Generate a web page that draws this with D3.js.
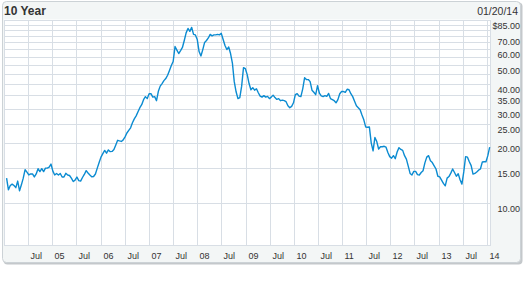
<!DOCTYPE html>
<html>
<head>
<meta charset="utf-8">
<script src="https://cdn.jsdelivr.net/npm/d3@7"></script>
<style>
  body { margin: 0; background: #fff; }
  text { font-family: "Liberation Sans", Arial, sans-serif; fill: #333; }
</style>
</head>
<body>
<script>
// Closing prices, one every two weeks from 01/20/04
var prices2004 = [13.3, 11.6, 12.2, 12.4, 12.2, 11.9, 12.85, 11.46, 12.3, 13.3, 14.69, 14.26, 13.8, 13.96, 13.96, 13.48, 13.96, 14.86, 14.35, 14.86, 14.35, 14.95, 14.95, 15.12, 15.68, 14.43];
var prices2005 = [13.8, 14.04, 13.8, 14.04, 13.48, 13.48, 14.07, 13.8, 13.72, 13.31, 12.78, 13.0, 13.48, 12.92, 12.85, 13.4, 13.88, 14.52, 14.12, 13.8, 13.52, 13.56, 13.96, 14.95, 15.95, 17.0];
var prices2006 = [17.7, 18.4, 17.8, 18.5, 18.13, 18.18, 18.6, 19.6, 20.7, 20.55, 20.43, 20.8, 21.55, 22.55, 23.25, 23.95, 25.4, 26.6, 27.55, 28.9, 30.3, 31.4, 33.3, 34.5, 33.7, 35.7];
var prices2007 = [35.7, 34.3, 34.5, 32.9, 36.7, 39.0, 40.2, 41.6, 42.6, 44.3, 46.8, 49.6, 52.0, 62.0, 59.4, 57.1, 59.1, 61.3, 66.5, 72.7, 76.6, 74.0, 77.5, 71.4, 71.0, 67.3];
var prices2008 = [58.4, 55.5, 59.8, 65.0, 66.5, 68.5, 71.4, 70.2, 71.0, 71.0, 71.4, 71.0, 72.3, 67.3, 62.7, 59.8, 61.6, 57.1, 51.1, 41.1, 36.5, 33.7, 34.1, 39.0, 48.4, 47.8];
var prices2009 = [44.6, 40.2, 37.4, 38.3, 37.2, 37.8, 36.1, 34.7, 34.3, 34.9, 34.3, 34.6, 33.7, 34.3, 35.1, 34.1, 33.4, 33.7, 32.9, 33.1, 32.9, 32.5, 31.0, 30.3, 30.8, 32.1];
var prices2010 = [35.3, 35.7, 34.7, 34.5, 37.8, 43.0, 42.1, 42.1, 41.1, 37.2, 36.3, 35.3, 39.2, 35.9, 34.8, 34.5, 34.9, 34.6, 35.8, 33.7, 33.3, 32.9, 32.1, 33.3, 35.7, 36.6];
var prices2011 = [36.6, 36.3, 37.6, 37.4, 35.7, 34.5, 32.7, 31.0, 30.3, 29.6, 27.8, 26.3, 24.2, 24.1, 24.2, 20.1, 18.3, 21.4, 20.4, 18.7, 19.2, 19.2, 19.3, 19.1, 17.95, 17.1];
var prices2012 = [16.8, 17.3, 16.7, 18.05, 19.0, 18.6, 18.4, 17.3, 16.6, 15.3, 14.05, 13.8, 14.4, 14.4, 13.85, 13.8, 14.2, 14.5, 15.9, 17.0, 17.3, 16.3, 15.95, 15.35, 14.8, 13.6];
var prices2013 = [13.5, 13.0, 12.5, 12.15, 13.3, 13.55, 14.1, 14.8, 14.2, 13.6, 14.0, 13.05, 12.4, 14.3, 17.1, 17.0, 16.1, 15.4, 13.95, 14.05, 14.3, 14.6, 14.8, 16.05, 16.1, 16.1];
var prices2014 = [17.3, 19.1];

var startDate = new Date(2004, 0, 20);
var stepDays = 14;

// Price axis
var priceGrid = [10, 15, 20, 25, 30, 35, 40, 45, 50, 55, 60, 65, 70, 75, 80, 85];
var priceLabels = [10, 15, 20, 25, 30, 35, 40, 50, 60, 70, 85];

var title = "10 Year";
var asOf = "01/20/14";

var prices = [].concat(prices2004, prices2005, prices2006, prices2007, prices2008,
    prices2009, prices2010, prices2011, prices2012, prices2013, prices2014);
var data = prices.map(function(p, i) {
    return { date: d3.timeDay.offset(startDate, i * stepDays), price: p };
});

var W = 526, H = 289;
var plot = { left: 4, right: 491, top: 19.5, bottom: 245.5 };

var svg = d3.select("body").append("svg")
    .attr("width", W)
    .attr("height", H);

// Panel with a soft shadow
svg.append("rect")
    .attr("x", 3.5).attr("y", 2.5)
    .attr("width", 519).attr("height", 262)
    .attr("rx", 4)
    .attr("fill", "#c4c8cb");
svg.append("rect")
    .attr("x", 2.5).attr("y", 1.5)
    .attr("width", 518).attr("height", 261)
    .attr("rx", 4)
    .attr("fill", "#f3f6f6")
    .attr("stroke", "#ccd2d6");

// Plot area
svg.append("rect")
    .attr("x", plot.left).attr("y", plot.top)
    .attr("width", plot.right - plot.left)
    .attr("height", plot.bottom - plot.top)
    .attr("fill", "#fff");

var x = d3.scaleTime()
    .domain([new Date(2004, 0, 8), new Date(2014, 0, 31)])
    .range([5, plot.right]);
var y = d3.scaleLog()
    .domain([6.05, 85])
    .range([plot.bottom, plot.top]);

var halfYears = d3.timeMonth.every(6).range(new Date(2004, 6, 1), new Date(2014, 0, 2));

// Grid
var grid = svg.append("g")
    .attr("stroke", "#d8dee5")
    .attr("stroke-width", 1)
    .attr("shape-rendering", "crispEdges");

grid.selectAll(".hline")
    .data(priceGrid)
    .enter().append("line")
    .attr("class", "hline")
    .attr("x1", plot.left).attr("x2", plot.right)
    .attr("y1", function(d) { return Math.round(y(d)) + 0.5; })
    .attr("y2", function(d) { return Math.round(y(d)) + 0.5; });

grid.selectAll(".vline")
    .data(halfYears)
    .enter().append("line")
    .attr("class", "vline")
    .attr("y1", plot.top).attr("y2", plot.bottom)
    .attr("x1", function(d) { return Math.round(x(d)) + 0.5; })
    .attr("x2", function(d) { return Math.round(x(d)) + 0.5; });

grid.append("rect")
    .attr("x", plot.left + 0.5).attr("y", Math.round(plot.top) + 0.5)
    .attr("width", plot.right - plot.left - 1)
    .attr("height", Math.round(plot.bottom - plot.top) - 1)
    .attr("fill", "none");

// Price line
var line = d3.line()
    .x(function(d) { return x(d.date); })
    .y(function(d) { return y(d.price); });

svg.append("path")
    .datum(data)
    .attr("fill", "none")
    .attr("stroke", "#0b8bd1")
    .attr("stroke-width", 1.4)
    .attr("stroke-linejoin", "round")
    .attr("d", line);

// Price labels on the right
svg.selectAll(".ylabel")
    .data(priceLabels)
    .enter().append("text")
    .attr("class", "ylabel")
    .attr("x", 520)
    .attr("y", function(d) { return Math.round(y(d)) + 8.5; })
    .attr("text-anchor", "end")
    .style("font-size", "9px")
    .text(function(d) { return (d === 85 ? "$" : "") + d3.format(".2f")(d); });

// Date labels along the bottom
svg.selectAll(".xlabel")
    .data(halfYears)
    .enter().append("text")
    .attr("class", "xlabel")
    .attr("x", function(d) { return Math.round(x(d)) + 2.5; })
    .attr("y", 259)
    .style("font-size", "9px")
    .text(function(d) { return d.getMonth() === 6 ? "Jul" : d3.timeFormat("%y")(d); });

// Header
svg.append("text")
    .attr("x", 4).attr("y", 15)
    .style("font-size", "12px")
    .style("font-weight", "bold")
    .text(title);

svg.append("text")
    .attr("x", 518).attr("y", 15)
    .attr("text-anchor", "end")
    .style("font-size", "10.5px")
    .text(asOf);
</script>
</body>
</html>
